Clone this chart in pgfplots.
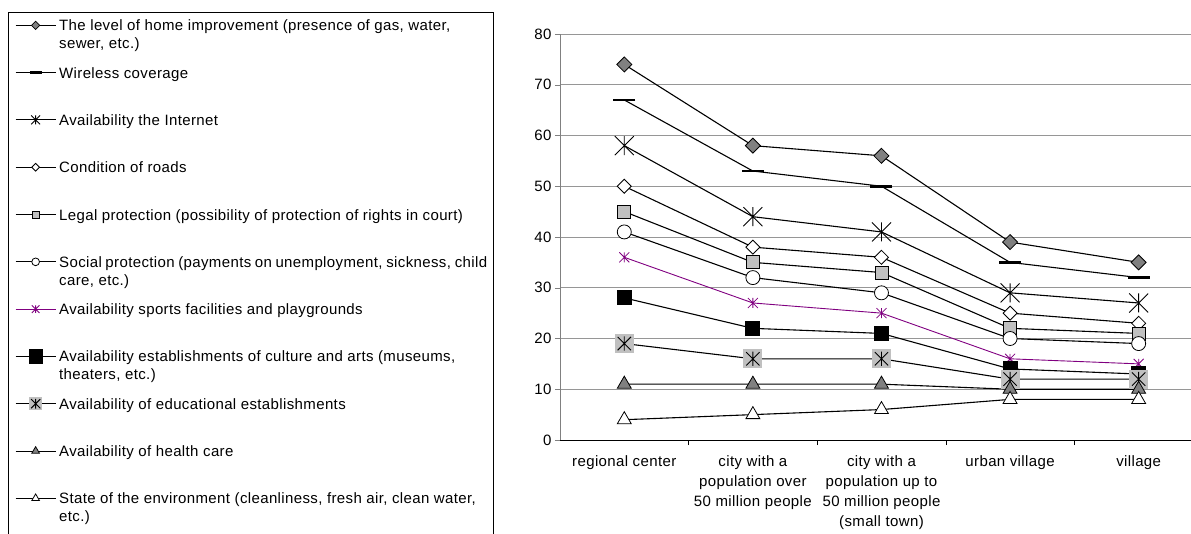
\documentclass[border=0pt]{standalone}
\usepackage{pgfplots}
\pgfplotsset{compat=1.18}
\usepackage{fontspec}
\setmainfont{Liberation Sans}[LetterSpace=2.5]
\definecolor{silverc}{RGB}{192,192,192}
\definecolor{darkg}{RGB}{128,128,128}
\definecolor{purp}{RGB}{128,0,128}
\definecolor{gridc}{RGB}{150,150,150}
\pgfdeclareplotmark{xstar}{%
 \pgfpathmoveto{\pgfpoint{0pt}{\pgfplotmarksize}}\pgfpathlineto{\pgfpoint{0pt}{-\pgfplotmarksize}}%
 \pgfpathmoveto{\pgfpoint{-\pgfplotmarksize}{-\pgfplotmarksize}}\pgfpathlineto{\pgfpoint{\pgfplotmarksize}{\pgfplotmarksize}}%
 \pgfpathmoveto{\pgfpoint{-\pgfplotmarksize}{\pgfplotmarksize}}\pgfpathlineto{\pgfpoint{\pgfplotmarksize}{-\pgfplotmarksize}}%
 \pgfusepathqstroke}
\pgfdeclareplotmark{sqstar}{%
 \pgfpathrectangle{\pgfpoint{-\pgfplotmarksize}{-\pgfplotmarksize}}{\pgfpoint{2\pgfplotmarksize}{2\pgfplotmarksize}}%
 \pgfsetfillcolor{silverc}\pgfusepath{fill}%
 \pgfpathmoveto{\pgfpoint{0pt}{0.75\pgfplotmarksize}}\pgfpathlineto{\pgfpoint{0pt}{-0.75\pgfplotmarksize}}%
 \pgfpathmoveto{\pgfpoint{-0.7\pgfplotmarksize}{-0.7\pgfplotmarksize}}\pgfpathlineto{\pgfpoint{0.7\pgfplotmarksize}{0.7\pgfplotmarksize}}%
 \pgfpathmoveto{\pgfpoint{-0.7\pgfplotmarksize}{0.7\pgfplotmarksize}}\pgfpathlineto{\pgfpoint{0.7\pgfplotmarksize}{-0.7\pgfplotmarksize}}%
 \pgfusepathqstroke}
\pgfdeclareplotmark{rdiam}{%
 \pgfpathmoveto{\pgfpoint{0pt}{\pgfplotmarksize}}\pgfpathlineto{\pgfpoint{\pgfplotmarksize}{0pt}}%
 \pgfpathlineto{\pgfpoint{0pt}{-\pgfplotmarksize}}\pgfpathlineto{\pgfpoint{-\pgfplotmarksize}{0pt}}\pgfpathclose
 \pgfusepathqfillstroke}
\newcommand{\LE}[1]{\begin{tabular}[t]{@{}p{428pt}@{}}#1\end{tabular}}
\begin{document}
\begin{tikzpicture}
\begin{axis}[
 name=ax, at={(0pt,0pt)}, anchor=south west,
 scale only axis, width=631pt, height=406pt,
 xmin=-0.5, xmax=4.407, ymin=0, ymax=80,
 axis x line*=bottom, axis y line*=left,
 x axis line style={black,-}, y axis line style={darkg,-},
 ytick={0,10,...,80},
 xtick={0,1,2,3,4},
 xticklabels={regional center,{city with a\\population over\\50 million people},{city with a\\population up to\\50 million people\\(small town)},urban village,village},
 minor xtick={0.5,1.5,2.5,3.5},
 tick align=outside, major tick length=5pt, minor tick length=5pt,
 major x tick style={draw=none}, minor x tick style={black},
 y tick style={darkg},
 ymajorgrids, grid style={gridc, line width=0.8pt},
 /pgf/number format/assume math mode=true,
 tick label style={font=\fontsize{15}{20}\selectfont},
 xticklabel style={align=center, yshift=-7pt},
 every axis plot/.append style={line width=1.1pt, black},
 legend cell align=left,
 legend style={at={(-0.8748,1.054)}, anchor=north west, draw=none,
   inner xsep=7pt, inner ysep=6pt, row sep=33.2pt, nodes={inner sep=0pt},
   font=\fontsize{15}{18}\selectfont},
 legend image code/.code={\draw[line width=0.9pt, mark repeat=2,mark phase=2, every mark/.append style={scale=0.55}] plot coordinates {(0pt,0pt) (20pt,0pt) (40pt,0pt)}; \path (43pt,0pt);},
]
\addplot[mark=rdiam, mark size=7.5pt, mark options={fill=darkg, line width=0.8pt}] coordinates {(0,74) (1,58) (2,56) (3,39) (4,35)};
\addlegendentry{\LE{The level of home improvement (presence of gas, water,\\sewer, etc.)}}
\addplot[mark=-, mark size=11pt, mark options={line width=2.8pt}] coordinates {(0,67) (1,53) (2,50) (3,35) (4,32)};
\addlegendentry{\LE{Wireless coverage}}
\addplot[mark=xstar, mark size=9.5pt, mark options={line width=0.9pt}, legend image post style={every mark/.append style={scale=0.85}}] coordinates {(0,58) (1,44) (2,41) (3,29) (4,27)};
\addlegendentry{\LE{Availability the Internet}}
\addplot[mark=rdiam, mark size=7pt, mark options={fill=white, line width=0.8pt}] coordinates {(0,50) (1,38) (2,36) (3,25) (4,23)};
\addlegendentry{\LE{Condition of roads}}
\addplot[mark=square*, mark size=6.5pt, mark options={fill=silverc, line width=0.8pt}] coordinates {(0,45) (1,35) (2,33) (3,22) (4,21)};
\addlegendentry{\LE{Legal protection (possibility of protection of rights in court)}}
\addplot[mark=*, mark size=7pt, mark options={fill=white, line width=0.8pt}] coordinates {(0,41) (1,32) (2,29) (3,20) (4,19)};
\addlegendentry{\LE{Social protection (payments on unemployment, sickness, child\\care, etc.)}}
\addplot[purp, line width=0.9pt, mark=xstar, mark size=5pt, mark options={purp, line width=0.8pt}, legend image post style={purp, every mark/.append style={scale=1.4}}] coordinates {(0,36) (1,27) (2,25) (3,16) (4,15)};
\addlegendentry{\LE{Availability sports facilities and playgrounds}}
\addplot[mark=square*, mark size=7pt, mark options={fill=black}, legend image post style={every mark/.append style={scale=1.7}}] coordinates {(0,28) (1,22) (2,21) (3,14) (4,13)};
\addlegendentry{\LE{Availability establishments of culture and arts (museums,\\theaters, etc.)}}
\addplot[mark=sqstar, mark size=9.5pt, mark options={line width=0.9pt}, legend image post style={every mark/.append style={scale=1.25}}] coordinates {(0,19) (1,16) (2,16) (3,12) (4,12)};
\addlegendentry{\LE{Availability of educational establishments}}
\addplot[mark=triangle*, mark size=8pt, mark options={fill=darkg, line width=0.8pt}] coordinates {(0,11) (1,11) (2,11) (3,10) (4,10)};
\addlegendentry{\LE{Availability of health care}}
\addplot[mark=triangle*, mark size=8pt, mark options={fill=white, line width=0.8pt}] coordinates {(0,4) (1,5) (2,6) (3,8) (4,8)};
\addlegendentry{\LE{State of the environment (cleanliness, fresh air, clean water,\\etc.)}}
\end{axis}
\draw[line width=0.8pt] (-552pt,-100pt) |- (-67pt,428pt) -- (-67pt,-100pt);
\pgfresetboundingbox
\path[use as bounding box] (-560pt,-93pt) rectangle (631pt,440pt);
\end{tikzpicture}
\end{document}
